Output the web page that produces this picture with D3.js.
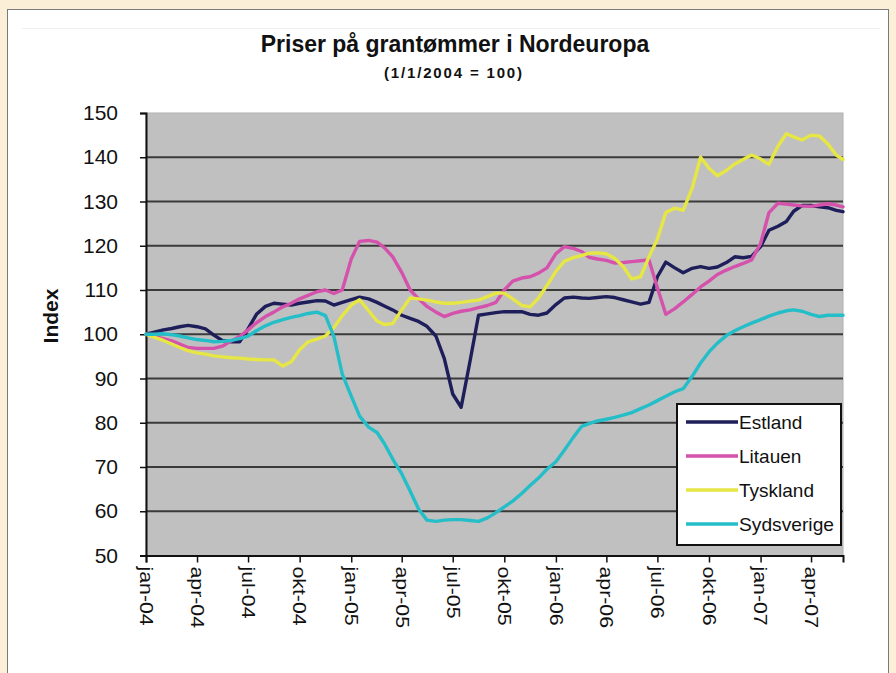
<!DOCTYPE html>
<html><head><meta charset="utf-8">
<script src="https://cdn.jsdelivr.net/npm/d3@7"></script>
<style>
html,body{margin:0;padding:0;background:#fcefd7;}
svg{display:block;}
text{font-family:"Liberation Sans",Arial,sans-serif;}
</style></head>
<body>
<svg id="chart" width="896" height="673"></svg>
<script>
// ---- data ----
const titleText = "Priser på grantømmer i Nordeuropa";
const subtitleText = "(1/1/2004 = 100)";
const yAxisLabel = "Index";
const seriesNames = ["Estland", "Litauen", "Tyskland", "Sydsverige"];
const tickLabels = ["jan-04","apr-04","jul-04","okt-04","jan-05","apr-05","jul-05","okt-05","jan-06","apr-06","jul-06","okt-06","jan-07","apr-07"];
const yTicks = [50,60,70,80,90,100,110,120,130,140,150];

// half-monthly observations (1st and 16th of each month), Jan 2004 – May 2007, plus 28 May 2007
const dates = [];
for (let y = 2004; y <= 2007; y++) {
  for (let mo = 0; mo < 12; mo++) {
    if (y === 2007 && mo > 4) break;
    dates.push(new Date(y, mo, 1));
    dates.push(new Date(y, mo, 16));
  }
}
dates.push(new Date(2007, 4, 28));

const estland = [
 100,100.5,101,101.3,101.7,102,101.7,101.2,99.8,98.6,98.3,98.3,
 101.2,104.5,106.3,107,106.8,106.6,107,107.3,107.6,107.5,106.6,107.2,
 107.8,108.4,108,107.2,106.4,105.5,104.3,103.6,102.9,101.8,99.6,94.5,
 86.5,83.5,94,104.3,104.6,104.9,105.1,105.1,105.1,104.5,104.3,104.8,
 106.7,108.2,108.4,108.2,108.1,108.3,108.5,108.3,107.8,107.3,106.8,107.2,
 113,116.3,115,113.9,114.9,115.3,114.9,115.2,116.2,117.5,117.3,117.6,
 119.8,123.5,124.4,125.5,127.8,129.1,129.1,128.8,128.6,128,
 127.7];
const litauen = [
 100,99.5,99,98.5,97.8,97,96.8,96.8,96.8,97.3,98.5,99.5,
 101,102.6,104,105,106.2,107,108,108.8,109.6,110,109.2,110,
 117,121,121.2,120.8,119.6,117.5,114,110,108,106.3,105,104,
 104.7,105.2,105.5,106,106.5,107.2,110,112,112.7,113,113.8,115,
 118.2,119.8,119.4,118.7,117.4,117,116.7,116.1,116.2,116.4,116.6,116.8,
 110.5,104.5,105.8,107.3,109,110.7,112,113.5,114.5,115.3,116,116.8,
 120.5,127.5,129.6,129.4,129.2,129,128.9,129.2,129.5,129.2,
 128.8];
const tyskland = [
 100,99.3,98.6,97.8,97,96.3,95.8,95.5,95.1,94.9,94.7,94.6,
 94.4,94.3,94.2,94.2,92.8,93.8,96.5,98.3,98.9,99.6,101.5,104.2,
 106.6,107.8,105.3,103,102.2,102.4,105.5,108.2,108,107.7,107.3,107,
 107,107.2,107.5,107.7,108.5,109.3,109.3,108,106.5,106.2,108.2,111,
 114.2,116.5,117.3,117.8,118.3,118.4,118.2,117.1,115.3,112.5,113,117.5,
 121.5,127.5,128.5,128,133,140,137.5,135.8,137,138.5,139.5,140.5,
 139.6,138.4,142.5,145.3,144.6,143.9,145,144.8,143,140.5,
 139.5];
const sydsverige = [
 100,100,100.1,99.9,99.6,99.2,98.8,98.6,98.3,98.4,98.6,99,
 99.6,100.8,101.9,102.7,103.3,103.8,104.2,104.7,105,104.2,99.5,91,
 86,81.5,79,77.8,75.3,71.8,68.5,64.6,60.5,58,57.7,58,
 58.1,58.1,57.9,57.7,58.5,59.7,61,62.3,64,65.8,67.5,69.5,
 71.2,73.8,76.7,79.2,79.8,80.4,80.8,81.2,81.7,82.3,83.2,84,
 85,86,87,87.7,90.5,93.5,96,98,99.7,100.8,101.7,102.5,
 103.3,104.1,104.8,105.3,105.5,105.2,104.5,104,104.3,104.3,
 104.3];
const seriesValues = [estland, litauen, tyskland, sydsverige];
const seriesColors = ["#1e1e5a", "#d552ac", "#e6e644", "#24bec8"];

// ---- layout ----
const svg = d3.select("#chart");
const plot = {left:146, right:843, top:113, bottom:555.5};

// page panels
svg.append("rect").attr("x",0).attr("y",0).attr("width",896).attr("height",673).attr("fill","#fcefd7");
svg.append("rect").attr("x",7.5).attr("y",9.5).attr("width",881).attr("height",680)
  .attr("fill","#ffffff").attr("stroke","#7a7a7a").attr("stroke-width",1);
svg.append("line").attr("x1",22).attr("x2",880).attr("y1",28.5).attr("y2",28.5)
  .attr("stroke","#eeeeee").attr("stroke-width",1);

const x = d3.scaleTime().domain([dates[0], dates[dates.length-1]]).range([plot.left, plot.right]);
const y = d3.scaleLinear().domain([50,150]).range([plot.bottom, plot.top]);

// plot area
svg.append("rect").attr("x",plot.left).attr("y",plot.top)
  .attr("width",plot.right-plot.left).attr("height",plot.bottom-plot.top)
  .attr("fill","#c0c0c0").attr("stroke","#b0b0b0").attr("stroke-width",1);

// gridlines
svg.append("g").selectAll("line").data(yTicks.filter(v => v>50 && v<150)).join("line")
  .attr("x1",plot.left).attr("x2",plot.right)
  .attr("y1",d=>y(d)).attr("y2",d=>y(d))
  .attr("stroke","#3a3a3a").attr("stroke-width",2);

// y axis
const yAxis = d3.axisLeft(y).tickValues(yTicks).tickSize(6).tickPadding(22).tickFormat(d3.format("d"));
const gy = svg.append("g").attr("transform",`translate(${plot.left},0)`).call(yAxis);
gy.select(".domain").attr("stroke","#111").attr("stroke-width",2);
gy.selectAll(".tick line").attr("stroke","#111").attr("stroke-width",1.5);
gy.selectAll(".tick text").attr("font-size",21).attr("fill","#111")
  .attr("font-family","'Liberation Sans',Arial,sans-serif");

// x axis
const tickDates = tickLabels.map((s,i) => new Date(2004 + Math.floor(i/4), (i%4)*3, 1));
const xAxis = d3.axisBottom(x).tickValues(tickDates).tickSize(7).tickFormat((d,i)=>tickLabels[i]);
const gx = svg.append("g").attr("transform",`translate(0,${plot.bottom})`).call(xAxis);
gx.select(".domain").attr("stroke","#111").attr("stroke-width",2);
gx.selectAll(".tick line").attr("stroke","#111").attr("stroke-width",1.5);
gx.selectAll(".tick text")
  .attr("font-size",19).attr("fill","#111")
  .attr("font-family","'Liberation Sans',Arial,sans-serif")
  .attr("text-anchor","start")
  .attr("dy","0.35em")
  .attr("transform","translate(0,11) rotate(90) scale(1.12,1)")
  .attr("x",0).attr("y",0);

// lines
const line = d3.line().x((d,i)=>x(dates[i])).y(d=>y(d)).curve(d3.curveLinear);
seriesValues.forEach((vals, k) => {
  svg.append("path").datum(vals).attr("d", line)
    .attr("fill","none").attr("stroke",seriesColors[k]).attr("stroke-width",3.4)
    .attr("stroke-linejoin","round").attr("stroke-linecap","round");
});

// titles
svg.append("text").attr("x",455).attr("y",52).attr("text-anchor","middle")
  .attr("font-size",23).attr("font-weight","bold").attr("fill","#111").text(titleText);
svg.append("text").attr("x",453).attr("y",78).attr("text-anchor","middle")
  .attr("font-size",15).attr("font-weight","bold").attr("fill","#111")
  .attr("textLength",138).attr("lengthAdjust","spacing").text(subtitleText);
svg.append("text").attr("transform","translate(58,316) rotate(-90)").attr("text-anchor","middle")
  .attr("font-size",21).attr("font-weight","bold").attr("fill","#111").text(yAxisLabel);

// legend
const lg = svg.append("g");
lg.append("rect").attr("x",677).attr("y",404).attr("width",164).attr("height",141)
  .attr("fill","#ffffff").attr("stroke","#111").attr("stroke-width",2);
const rowY = [422, 456, 490, 524];
seriesNames.forEach((n,k) => {
  lg.append("line").attr("x1",686).attr("x2",738).attr("y1",rowY[k]).attr("y2",rowY[k])
    .attr("stroke",seriesColors[k]).attr("stroke-width",3.4);
  lg.append("text").attr("x",739).attr("y",rowY[k]).attr("dy","0.35em")
    .attr("font-size",19).attr("fill","#111").attr("textLength",n === "Sydsverige" ? 95 : null)
    .attr("lengthAdjust","spacingAndGlyphs").text(n);
});
</script>
</body></html>
